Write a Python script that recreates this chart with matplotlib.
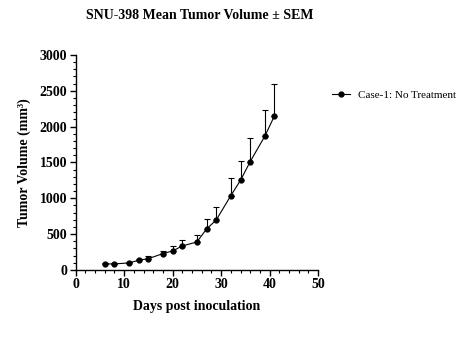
import numpy as np
import matplotlib.pyplot as plt
from matplotlib.ticker import MultipleLocator
from matplotlib.lines import Line2D

plt.rcParams['font.family'] = ['Liberation Serif', 'DejaVu Serif']

# data
days = [6, 8, 11, 13, 15, 18, 20, 22, 25, 27, 29, 32, 34, 36, 39, 41]
mean_vol = [84, 84, 98, 135, 158, 228, 265, 335, 390, 572, 698, 1037, 1251, 1512, 1865, 2149]
sem_vol = [8, 8, 12, 22, 37, 42, 65, 88, 98, 135, 176, 242, 275, 330, 372, 451]
label = "Case-1: No Treatment"

fig = plt.figure(figsize=(4.63, 3.37), dpi=100)
ax = fig.add_axes([0.1635, 0.199, 0.5235, 0.638])

# upward-only error bars
ax.errorbar(days, mean_vol, yerr=[np.zeros(len(sem_vol)), sem_vol], fmt='-o',
            color='black', ms=3.5, lw=0.8, elinewidth=0.8, capsize=2, capthick=0.8)

ax.set_xlim(0, 50)
ax.set_ylim(0, 3000)
ax.xaxis.set_major_locator(MultipleLocator(10))
ax.xaxis.set_minor_locator(MultipleLocator(2))
ax.yaxis.set_major_locator(MultipleLocator(500))
ax.yaxis.set_minor_locator(MultipleLocator(100))
for s in ['top', 'right']:
    ax.spines[s].set_visible(False)
for s in ['left', 'bottom']:
    ax.spines[s].set_linewidth(1.0)
ax.tick_params(which='major', length=4, width=1.0, labelsize=10, pad=2)
ax.tick_params(which='minor', length=2, width=0.8)
for t in ax.get_xticklabels() + ax.get_yticklabels():
    t.set_fontweight('bold')

ax.set_xlabel("Days post inoculation", fontsize=10, fontweight='bold', labelpad=6)
ax.set_ylabel("Tumor Volume (mm³)", fontsize=10, fontweight='bold', labelpad=6)
fig.text(0.432, 0.955, "SNU-398 Mean Tumor Volume ± SEM", ha='center', va='center',
         fontsize=10, fontweight='bold')

handle = Line2D([], [], color='black', marker='o', ms=3.5, lw=0.8)
ax.legend([handle], [label], loc='center left', bbox_to_anchor=(1.04, 0.814),
          frameon=False, fontsize=8, handlelength=1.6, handletextpad=0.7,
          borderaxespad=0)

fig.savefig("out.png", dpi=100)
